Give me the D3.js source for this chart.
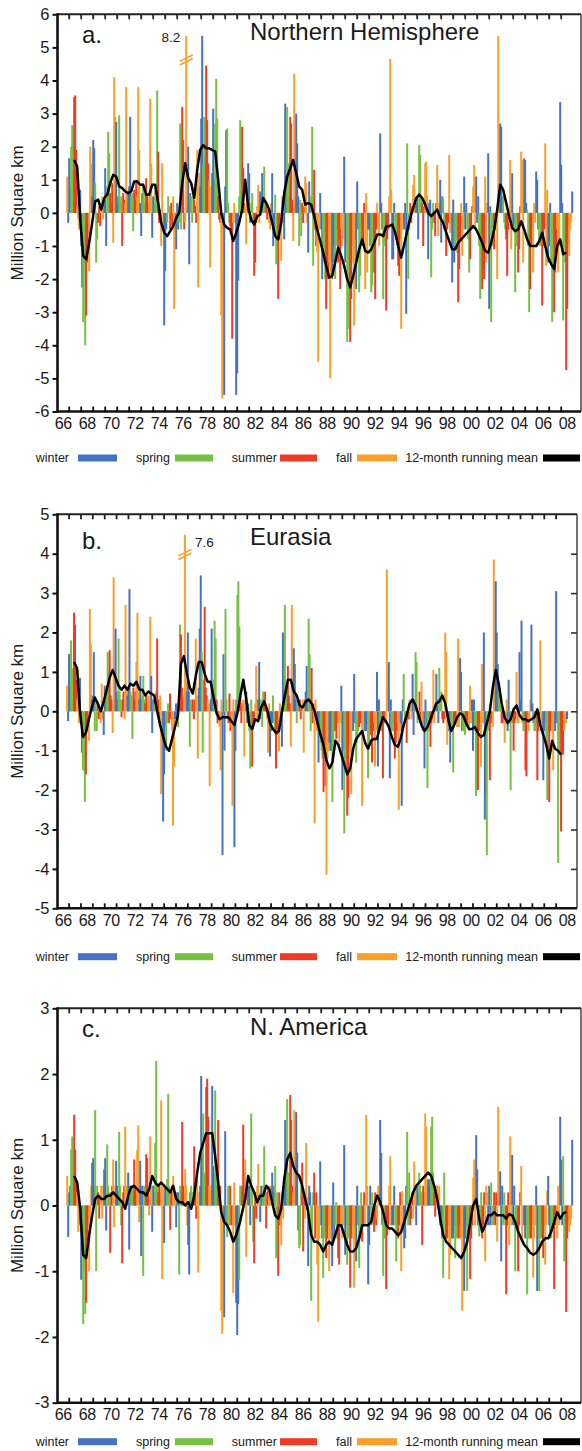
<!DOCTYPE html>
<html><head><meta charset="utf-8">
<script src="https://cdn.jsdelivr.net/npm/d3@7"></script>
<style>
body{margin:0;background:#fff}
svg{display:block}
text{font-family:"Liberation Sans",Arial,Helvetica,sans-serif;fill:#1a1a1a}
</style>
</head><body>
<svg id="chart" width="582" height="1451"></svg>
<script>
// ---------------- DATA ----------------
const seasons = ["winter", "spring", "summer", "fall"];
const seasonColors = ["#4672c4", "#76c043", "#ee3b24", "#f9a02b"];
const meanLabel = "12-month running mean";
const startYear = 1966, startMonth = 11;          // first monthly value: Nov 1966
const meanStartYear = 1967, meanStartMonth = 6;   // first running-mean value: Jun 1967
const meanStepMonths = 3;
const yearTicks = d3.range(1967, 2009);
const labelYears = d3.range(1966, 2009, 2);

// Monthly snow-cover anomalies (million km²), Nov 1966 – Dec 2008
const nhAnom = [
 1.1,-0.3,
 1.65,0.8,2.0,2.65,1.3,3.5,3.55,1.9,0.2,-0.2,-0.5,0.7,
 -1.0,-2.25,-3.3,-1.5,-4.0,-3.1,-1.5,-1.0,-1.75,2.0,1.5,0.5,
 2.2,1.95,0.9,-1.5,-0.8,-0.3,0.2,-0.4,0.3,0.5,-0.2,0.4,
 1.35,-1.0,0.8,2.45,1.8,0.6,0.3,0.9,-0.9,4.1,2.9,2.75,
 0.3,0.5,2.95,0.3,0.5,-1.0,0.6,0.4,0.3,3.8,0.3,0.6,
 0.8,2.9,0.5,0.6,-0.55,0.7,0.4,1.0,0.5,3.8,1.9,0.3,
 -0.7,0.6,0.9,0.3,0.8,1.05,0.6,0.3,0.5,3.45,1.5,-0.75,
 0.5,0.3,0.8,0.5,3.7,1.85,-0.3,0.1,-1.0,1.5,-0.5,-3.4,
 -1.75,-0.5,-0.3,0.5,0.2,-0.5,0.3,-0.4,0.5,-2.9,-0.5,-1.1,
 0.3,-0.5,-0.3,2.7,-0.5,3.2,2.2,-0.5,-0.3,8.2,0.3,2.0,
 -1.55,0.6,0.5,-0.3,0.5,0.4,0.2,-0.3,1.9,-2.25,1.2,0.8,
 2.85,5.4,1.5,2.9,1.8,4.45,2.8,1.5,1.0,-1.65,0.8,1.2,
 3.15,1.0,2.7,4.05,2.85,0.5,-0.2,-0.3,-3.1,-5.6,-0.5,-5.5,
 0.8,2.5,2.55,0.3,-0.3,-0.4,-0.5,-3.8,-0.3,0.3,-0.3,-5.5,
 -4.85,-2.05,0.5,2.8,0.5,2.6,1.35,0.3,0.2,-0.95,0.4,1.5,
 1.2,-0.3,0.3,0.6,-0.2,-1.9,-1.5,-0.3,0.2,0.85,-0.3,0.65,
 0.5,1.2,0.3,1.4,0.3,0.2,-0.2,0.1,-0.3,-0.5,0.3,1.2,
 -1.0,-0.5,0.55,-1.55,-0.5,-2.6,-0.8,-0.3,-1.45,0.5,-0.3,-0.8,
 3.3,1.0,3.2,1.5,0.5,2.9,2.7,0.4,-0.85,4.2,0.5,3.0,
 2.1,0.5,-1.0,0.4,-0.7,0.3,-0.3,0.2,1.1,0.9,-0.3,-1.2,
 0.95,0.3,0.5,2.6,-1.6,1.3,-0.5,-1.0,-1.2,-4.5,-0.5,0.6,
 -0.5,-2.0,-1.0,-1.5,-2.0,-2.9,-1.5,-2.0,-1.5,-5.0,-1.5,-2.0,
 -1.0,-1.5,-2.0,-1.0,-0.5,-1.5,-0.8,-2.3,-0.5,-1.0,-0.8,1.7,
 -1.5,-1.0,-3.9,-3.5,-2.0,-3.9,-2.6,-1.0,-1.5,-3.4,-0.8,-2.3,
 0.95,-0.5,-2.4,-1.9,-0.5,-0.8,-1.0,0.3,-2.3,0.6,-1.8,-0.5,
 -0.5,-1.0,-2.4,-2.2,-1.0,-1.8,-2.6,-0.5,0.3,-0.5,-1.0,2.4,
 0.3,-0.5,-2.6,-1.0,-0.5,-2.95,-0.8,-0.5,0.5,4.65,0.7,-1.4,
 -1.4,0.3,-0.5,-0.8,-1.0,-1.6,-1.9,-0.8,-3.5,-0.5,-0.3,-0.5,
 0.3,-3.05,2.1,-2.0,-0.5,0.3,-0.3,0.2,0.85,1.15,0.2,0.3,
 0.5,-0.8,2.05,1.75,0.5,0.3,-1.0,0.2,1.5,1.55,0.5,-1.4,
 0.3,0.4,-1.95,-0.5,0.3,-0.3,-0.7,0.3,1.45,-0.7,0.3,1.0,
 -0.9,0.5,0.45,-0.5,-0.3,-1.3,-0.5,-0.3,1.75,-0.6,-0.3,-2.1,
 0.4,-1.5,-1.0,-0.8,-1.2,-2.7,-1.7,-0.8,0.3,-1.3,-0.5,1.1,
 -0.5,0.3,-0.5,-0.8,-1.8,-1.4,-0.5,0.2,0.8,1.45,-0.5,1.1,
 -0.3,0.5,-1.0,-2.6,-1.0,-2.3,-1.7,-2.0,1.1,-1.5,0.3,1.8,
 -2.9,0.2,-3.3,-1.0,-0.5,-1.1,-0.5,-0.3,-2.0,5.4,0.5,2.7,
 2.6,0.5,0.5,-0.3,-0.5,-0.8,-1.9,-0.5,-0.3,1.6,-1.1,1.2,
 -0.5,-0.3,-2.4,-1.0,-0.5,-1.8,-1.1,0.2,1.85,1.6,-1.5,1.65,
 1.6,0.3,0.1,-1.0,-3.0,-2.3,-1.0,-0.5,-1.8,0.3,-0.3,1.25,
 1.0,-0.5,-0.8,-1.0,-0.5,-2.8,-1.0,-0.5,2.1,-1.6,0.7,-1.5,
 -1.0,0.3,-1.5,-3.3,-1.0,-3.0,-1.8,-1.0,-0.5,-1.8,-1.0,3.35,
 1.45,0.3,-3.25,-1.0,-1.5,-4.75,-2.9,-1.0,-1.3,-0.5,-0.3,0.65
];
const eaAnom = [
 0.65,-0.25,
 1.45,0.6,1.8,1.1,0.7,2.5,2.2,0.8,0.3,1.05,-0.3,0.85,
 -0.3,-1.05,-1.5,-0.7,-2.3,-1.6,-0.5,-0.4,-0.75,2.6,1.7,0.3,
 0.4,1.5,-0.5,0.3,-0.5,0.2,-0.2,0.1,-0.3,0.7,-0.2,-0.6,
 0.65,0.3,0.6,1.5,1.0,1.55,0.4,0.3,-0.55,3.4,1.0,2.1,
 0.5,0.3,1.85,0.5,0.3,-0.15,0.3,0.5,-0.2,2.7,0.6,0.4,
 0.6,3.1,0.5,0.4,-0.7,0.6,0.3,0.5,1.25,2.5,0.5,0.3,
 0.9,0.3,0.4,0.9,0.3,0.2,0.4,0.2,0.4,0.3,2.4,0.9,
 -0.55,0.3,0.2,0.4,0.5,1.85,0.3,-0.3,0.4,-2.1,-0.5,-2.8,
 -1.6,-0.4,-1.0,-0.3,0.2,-0.3,0.45,-0.2,-0.5,-2.9,-1.4,-0.2,
 0.2,-0.3,-0.4,0.5,2.2,1.95,0.6,0.3,0.4,7.6,0.8,0.5,
 2.0,0.5,-0.9,0.3,0.2,0.3,-0.2,0.3,1.85,0.4,-1.2,0.6,
 2.1,3.45,1.5,-1.05,0.8,2.65,0.6,0.4,0.3,0.2,-1.9,0.3,
 2.1,0.5,0.8,2.3,1.85,0.3,-0.3,-0.2,-0.4,-1.5,0.3,-3.65,
 1.45,-1.0,2.6,0.3,-0.2,-0.3,0.45,-0.5,-0.4,-2.4,0.3,-3.45,
 -1.0,0.3,2.95,3.3,2.15,0.4,-0.3,0.2,0.3,-1.15,0.3,0.5,
 -0.3,0.2,-0.5,-1.45,0.3,-1.4,-0.3,-0.2,0.2,1.15,-0.2,0.3,
 1.25,-0.2,0.3,-0.4,0.5,0.3,0.5,0.1,-0.2,-1.05,0.2,-1.15,
 -0.5,-0.3,0.4,-0.3,-0.5,-1.45,-0.6,-0.3,-1.0,0.2,-0.3,-0.9,
 2.0,0.5,2.7,0.6,0.3,1.15,0.4,0.2,-0.9,2.7,0.3,1.6,
 1.2,0.3,-0.3,0.3,0.2,0.3,-0.2,0.1,0.3,-1.05,0.3,0.5,
 1.15,0.3,2.35,1.45,-0.5,1.1,-0.3,0.2,-2.85,0.3,-0.5,-0.3,
 -1.3,-0.5,-0.8,-1.0,-1.2,-2.05,-1.0,-1.9,-4.15,-1.2,-1.0,-0.8,
 -1.0,-1.0,-2.3,-0.8,-0.5,-0.5,-0.7,-0.3,-0.3,-0.8,-0.3,0.65,
 -2.0,-1.0,-3.1,-1.5,-1.2,-2.65,-2.2,-0.8,-1.0,-2.1,-0.5,-0.5,
 0.95,-0.3,-1.3,-0.8,-0.5,-0.4,-0.3,-0.3,-2.4,-0.6,-0.3,-0.5,
 -0.5,-0.3,-1.7,-0.8,-0.5,-0.6,-1.3,-0.5,-0.3,-1.4,-0.5,1.0,
 -1.4,0.3,-0.5,-0.3,-0.5,-1.7,-0.3,-0.2,-0.3,3.6,0.5,1.25,
 -1.7,0.3,-0.5,-0.5,-0.3,-1.2,-0.8,-0.5,-0.3,-2.5,-0.5,-0.3,
 -2.4,0.3,0.95,-0.3,-0.3,-0.8,-0.2,-0.2,0.3,0.3,-0.2,0.95,
 -0.6,0.3,1.5,1.25,-0.3,-0.2,0.5,-0.3,0.75,-0.5,-0.3,-1.45,
 0.3,-0.5,-1.95,-0.5,-0.3,-0.9,-0.3,-0.2,1.05,-0.3,0.2,0.95,
 0.3,-0.3,1.1,0.3,0.5,-0.2,-0.3,-0.2,2.0,1.5,-0.85,-0.3,
 -0.5,-1.3,-0.3,-0.5,-1.55,-0.3,-0.3,-0.2,-0.4,1.85,-0.4,1.35,
 1.0,-0.5,-0.5,-0.3,-0.6,-0.3,-0.2,-0.3,-0.5,0.65,-0.3,0.3,
 -1.0,0.3,-0.5,-2.15,-0.5,-2.0,-0.5,-0.3,-1.4,1.2,-0.3,2.0,
 -2.75,-2.1,-3.65,-0.5,-0.3,-1.75,-0.3,-0.2,-0.4,3.85,0.5,3.3,
 2.0,1.2,0.7,0.5,0.3,-0.3,-0.3,-0.2,-0.8,-0.3,0.3,-0.5,
 0.8,-0.3,-2.0,-0.3,-0.3,-1.0,-0.3,-0.2,1.0,-0.3,-0.3,1.5,
 0.3,2.3,-0.3,-0.5,-0.3,-1.5,-1.65,-0.3,-0.5,-0.3,0.3,2.2,
 0.2,-0.3,-0.5,-0.5,-0.3,-1.75,-0.5,-0.3,1.8,-0.5,-0.3,-1.75,
 -0.5,-0.3,-0.8,-2.25,-0.5,-2.3,-0.5,-0.3,-0.5,-1.5,-0.3,-0.5,
 3.05,-0.3,-3.85,-1.0,-0.5,-3.05,-1.0,-1.1,-0.5,-0.3,-0.3,-0.2
];
const naAnom = [
 0.45,-0.48,
 0.2,0.3,0.85,1.05,0.4,1.38,0.85,0.3,0.2,-0.4,0.1,-0.3,
 -1.13,-0.5,-1.8,-1.0,-1.65,-1.48,-0.6,-0.3,-1.0,-0.3,0.3,0.65,
 0.72,0.3,1.45,-1.0,0.3,0.2,-0.2,0.1,0.3,-0.2,0.3,0.55,
 0.72,-0.38,0.93,0.3,0.2,-0.72,0.2,0.3,0.7,-0.33,0.3,0.68,
 0.3,0.2,1.12,0.3,-0.3,-0.88,0.2,0.3,1.2,0.3,0.2,0.5,
 -0.67,0.3,0.2,0.3,0.2,0.7,0.3,0.2,0.85,1.22,-0.25,0.68,
 -0.77,0.3,-1.07,0.3,0.2,0.78,0.72,0.2,-0.15,1.05,0.3,-0.4,
 0.3,0.2,0.95,2.2,0.3,0.2,0.3,0.2,1.6,-1.12,0.3,-0.57,
 0.3,0.2,0.4,1.7,0.3,-0.37,0.2,0.3,0.45,0.2,0.2,-0.33,
 0.2,0.2,-1.05,0.3,0.2,1.27,0.3,0.2,0.55,0.3,-0.3,-0.6,
 -1.05,0.2,0.3,0.2,0.2,0.9,0.2,-0.2,0.4,-1.02,0.2,0.3,
 1.97,0.8,1.4,0.5,0.3,1.8,1.93,1.35,0.3,0.2,0.3,1.82,
 0.6,0.5,1.75,0.5,0.3,1.3,0.2,0.3,-1.6,-1.95,-0.4,-1.7,
 1.13,-0.3,-0.48,0.3,-0.3,0.3,-0.3,-0.3,-1.33,0.35,-0.3,-1.48,
 -1.97,-1.5,-1.13,0.3,0.2,0.3,1.23,0.5,0.7,-0.78,0.2,0.3,
 0.3,-0.3,1.4,0.3,-0.55,-0.88,0.2,-0.2,0.3,0.63,0.2,-0.25,
 0.3,0.2,0.3,0.9,0.3,-0.35,0.2,0.3,0.3,0.2,0.3,0.5,
 0.2,0.3,0.6,-0.8,0.2,-1.07,0.2,-0.3,-0.6,0.2,-0.2,0.2,
 1.3,0.5,1.62,0.5,0.3,1.68,1.3,0.3,0.2,1.45,0.3,1.42,
 0.8,-0.38,-0.65,-0.6,0.3,0.65,-0.7,0.2,-0.2,0.95,0.13,-0.92,
 0.3,0.2,-1.45,-0.5,0.2,0.5,-0.5,0.2,-0.9,-1.77,-0.5,0.67,
 -0.3,-0.5,-1.1,-0.5,-0.3,-0.8,-0.5,-0.3,-1.0,-0.5,-0.3,-0.92,
 0.35,-0.5,-0.3,0.05,-0.5,-0.8,-0.9,-0.3,-0.3,-0.5,-0.3,0.92,
 -0.75,-0.3,-0.9,-0.5,-0.3,-1.25,-0.5,-0.3,-0.5,-1.25,-0.3,-0.85,
 0.3,-0.3,-0.95,-0.5,0.2,-0.55,-0.3,0.2,-0.3,1.38,0.3,-1.2,
 -0.6,0.3,-0.3,0.2,-0.3,-0.4,0.2,-0.3,-0.2,0.3,0.2,1.3,
 0.8,-0.3,-1.07,-0.5,-0.3,-1.27,-0.45,-0.3,0.3,0.75,-0.3,-0.3,
 -0.3,0.3,-0.3,-0.85,-0.3,-0.5,-0.3,0.2,-1.0,0.22,-0.3,-0.65,
 -0.5,0.3,1.12,-0.3,0.5,-0.3,-0.2,0.2,-0.2,0.67,0.3,-0.3,
 0.3,0.2,0.5,0.3,0.2,-0.6,0.3,0.2,1.4,1.2,0.3,0.4,
 0.3,0.4,1.2,1.35,0.5,0.2,-0.17,0.3,0.3,0.2,0.3,-0.3,
 -0.3,-0.5,-1.1,0.5,-0.5,-0.5,-0.5,-0.3,-1.12,-0.75,-0.5,-0.5,
 -0.5,-0.3,-0.8,-0.5,-0.3,-0.5,-0.3,-0.5,-0.5,-1.6,-0.5,-1.3,
 -0.5,-0.3,-1.3,-0.5,-0.3,-1.12,-0.5,-0.3,0.42,0.7,-0.3,1.07,
 0.55,-0.3,-0.47,-0.3,0.2,-0.5,-0.3,0.2,-0.85,0.3,0.2,-0.3,
 0.3,-0.3,0.35,-0.3,-0.3,0.2,-0.3,0.2,-0.55,1.5,0.2,0.52,
 -0.85,0.3,-0.3,0.2,-0.3,-1.35,-0.3,0.2,-0.6,1.05,-0.3,0.77,
 -0.3,0.3,-1.0,-0.3,-0.3,-1.0,-0.3,0.2,0.6,-0.5,-0.3,-0.3,
 -0.5,-0.3,-1.35,-0.5,-0.3,-0.5,-0.5,-0.3,-1.1,-0.5,-0.3,0.3,
 -1.3,-0.5,-1.3,-0.5,-0.3,-0.5,-0.8,-0.3,-0.9,-0.3,0.23,0.45,
 -0.3,-0.5,-0.5,-0.3,-0.3,-1.27,-0.3,-0.2,-0.5,0.3,-0.3,1.35,
 0.7,-0.3,0.75,-0.85,-0.3,-1.62,-0.5,-0.3,-0.4,-0.3,-0.2,1.0
];

// 12-month running means, every 3 months from Jun 1967
const nhMean = [
 1.6,1.4,-0.2,-1.3,-1.4,-0.9,-0.3,0.35,0.4,0.1,
 0.45,0.55,0.9,1.15,1.1,0.8,0.75,0.65,0.6,0.65,
 0.95,0.95,0.85,0.85,0.55,0.55,0.85,0.85,0.3,-0.3,
 -0.6,-0.7,-0.55,-0.4,-0.15,0.0,0.9,1.5,1.05,0.9,
 0.45,1.3,1.9,2.05,1.95,1.95,1.9,1.85,1.0,0.0,
 -0.35,-0.45,-0.5,-0.85,-0.6,-0.3,0.1,1.0,0.15,-0.2,
 -0.35,-0.1,-0.05,0.45,0.3,0.1,-0.3,-0.7,-0.8,-0.3,
 0.6,1.1,1.35,1.6,1.2,0.8,0.7,0.25,0.3,0.25,
 -0.1,-0.5,-0.85,-1.2,-1.6,-1.95,-1.9,-1.5,-1.05,-1.3,
 -1.6,-2.0,-2.25,-1.9,-1.5,-1.1,-0.8,-1.15,-1.2,-1.1,
 -0.9,-0.65,-0.65,-0.7,-0.4,-0.4,-0.35,-0.6,-1.0,-1.35,
 -0.95,-0.55,-0.15,0.15,0.45,0.55,0.45,0.25,0.0,-0.1,
 0.0,0.1,-0.15,-0.3,-0.6,-0.85,-1.1,-1.1,-0.9,-0.8,
 -0.7,-0.6,-0.5,-0.4,-0.5,-0.7,-0.9,-1.15,-1.2,-0.9,
 -0.5,0.1,0.85,0.7,0.3,-0.1,-0.45,-0.55,-0.5,-0.25,
 -0.5,-0.8,-1.0,-1.0,-1.0,-0.85,-0.6,-1.0,-1.35,-1.55,
 -1.7,-1.0,-0.8,-1.25,-1.2
];
const eaMean = [
 1.25,1.1,0.0,-0.65,-0.55,-0.2,0.1,0.35,0.2,0.0,
 0.25,0.55,0.85,1.05,0.85,0.65,0.55,0.65,0.55,0.7,
 0.65,0.75,0.55,0.55,0.4,0.5,0.45,0.4,0.0,-0.35,
 -0.65,-0.9,-1.0,-0.7,-0.4,-0.1,1.2,1.4,0.95,0.6,
 0.45,0.9,1.25,1.25,0.95,0.75,0.75,0.35,-0.05,-0.2,
 -0.15,-0.15,-0.15,-0.25,-0.35,-0.05,0.4,0.8,0.3,-0.35,
 -0.45,-0.2,-0.25,0.1,0.25,0.05,-0.3,-0.45,-0.55,-0.5,
 0.0,0.4,0.8,0.8,0.5,0.4,0.15,0.1,0.25,0.3,
 0.2,0.0,-0.3,-0.6,-0.85,-1.25,-1.45,-1.3,-0.75,-0.85,
 -1.1,-1.35,-1.6,-1.45,-0.95,-0.7,-0.6,-0.5,-0.8,-0.95,
 -0.75,-0.7,-0.7,-0.4,-0.15,-0.25,-0.4,-0.65,-0.85,-0.9,
 -0.7,-0.35,-0.1,0.2,0.3,0.15,-0.1,-0.35,-0.5,-0.4,
 -0.2,0.0,0.2,0.25,0.4,0.2,-0.2,-0.5,-0.35,-0.15,
 -0.05,-0.1,-0.3,-0.45,-0.45,-0.4,-0.55,-0.65,-0.6,-0.3,
 0.0,0.6,1.05,0.7,0.2,-0.15,-0.3,-0.2,0.05,0.15,
 -0.1,-0.2,-0.2,-0.25,-0.2,-0.15,0.05,-0.35,-0.6,-0.85,
 -1.2,-0.75,-0.95,-1.0,-1.1
];
const naMean = [
 0.45,0.35,-0.05,-0.75,-0.8,-0.45,-0.15,0.1,0.15,0.1,
 0.1,0.15,0.15,0.2,0.15,0.1,0.05,-0.05,0.15,0.28,
 0.3,0.25,0.2,0.2,0.15,0.25,0.45,0.35,0.3,0.35,
 0.3,0.25,0.2,0.3,0.1,0.05,0.05,0.0,0.05,-0.05,
 0.15,0.5,0.8,0.95,1.1,1.1,1.1,0.75,0.35,-0.1,
 -0.25,-0.3,-0.4,-0.55,-0.45,-0.3,-0.1,0.1,0.45,0.3,
 0.2,0.05,0.15,0.15,0.3,0.25,0.05,-0.15,-0.2,-0.05,
 0.4,0.7,0.8,0.6,0.5,0.45,0.3,0.1,-0.1,-0.45,
 -0.55,-0.55,-0.6,-0.7,-0.6,-0.55,-0.6,-0.45,-0.3,-0.3,
 -0.45,-0.6,-0.7,-0.7,-0.65,-0.5,-0.3,-0.3,-0.3,-0.25,
 0.0,0.15,0.05,-0.1,-0.3,-0.35,-0.35,-0.4,-0.45,-0.4,
 -0.25,-0.1,0.05,0.2,0.3,0.35,0.4,0.45,0.5,0.45,
 0.3,0.1,-0.2,-0.45,-0.55,-0.6,-0.65,-0.7,-0.75,-0.8,
 -0.7,-0.55,-0.25,0.0,0.1,-0.2,-0.4,-0.3,-0.15,-0.15,
 -0.1,-0.15,-0.15,-0.15,-0.2,-0.13,-0.15,-0.25,-0.4,-0.5,
 -0.6,-0.65,-0.72,-0.75,-0.72,-0.65,-0.55,-0.5,-0.5,-0.4,
 -0.25,-0.1,-0.2,-0.12,-0.1
];

// ---------------- LAYOUT ----------------
const FONT = '"Liberation Sans",Arial,Helvetica,sans-serif';
const left = 57.5;
const panels = [
  {letter:"a.", title:"Northern Hemisphere", values:nhAnom, mean:nhMean,
   yMin:-6, yMax:6, top:14.3, bottom:411.5, right:581, pxPerYear:12.0,
   letterDy:29, titleDy:26, legendY:458, cap:5.35, breakV:4.62, capSide:"left", rightTicks:false},
  {letter:"b.", title:"Eurasia", values:eaAnom, mean:eaMean,
   yMin:-5, yMax:5, top:514.3, bottom:908.3, right:577, pxPerYear:11.88,
   letterDy:34.5, titleDy:31, legendY:956.7, cap:4.48, breakV:3.98, capSide:"right", rightTicks:true},
  {letter:"c.", title:"N. America", values:naAnom, mean:naMean,
   yMin:-3, yMax:3, top:1008.3, bottom:1402.7, right:581, pxPerYear:12.0,
   letterDy:28.5, titleDy:27, legendY:1441.7, cap:null, rightTicks:false}
];

const svg = d3.select("#chart");
const x0 = 56.7, domEnd = 2009.69;
const xLabel = d3.scaleLinear().domain([1966, domEnd]).range([x0, x0 + (domEnd-1966)*12.0]);

function monthTime(i){ const m = startMonth - 1 + i; return startYear + (m + 0.5) / 12; }
function seasonOf(i){ const mo = (startMonth - 1 + i) % 12 + 1;
  if (mo === 12 || mo <= 2) return 0; if (mo <= 5) return 1; if (mo <= 8) return 2; return 3; }
function meanTime(k){ return meanStartYear + (meanStartMonth - 1 + meanStepMonths*k + 0.5) / 12; }

panels.forEach(p => {
  const x = d3.scaleLinear().domain([1966, domEnd]).range([x0, x0 + (domEnd-1966)*p.pxPerYear]);
  const y = d3.scaleLinear().domain([p.yMin, p.yMax]).range([p.bottom, p.top]);
  const g = svg.append("g");
  const barW = 2.0;

  // bars
  g.append("g").selectAll("rect").data(p.values.map((v,i)=>({v,i}))).join("rect")
    .attr("x", d => x(monthTime(d.i)) - barW/2)
    .attr("width", barW)
    .attr("y", d => { const v = p.cap != null ? Math.min(d.v, p.cap) : d.v; return Math.min(y(v), y(0)); })
    .attr("height", d => { const v = p.cap != null ? Math.min(d.v, p.cap) : d.v; return Math.abs(y(v) - y(0)); })
    .attr("fill", d => seasonColors[seasonOf(d.i)]);

  // axis break for clipped bar
  if (p.cap != null) {
    const maxV = d3.max(p.values);
    const iMax = p.values.indexOf(maxV);
    const bx = x(monthTime(iMax)), by = y(p.breakV);
    const bc = seasonColors[seasonOf(iMax)];
    [ -1.8, 1.8 ].forEach(off => {
      g.append("line").attr("x1", bx-6.5).attr("y1", by+off+3.2).attr("x2", bx+6.5).attr("y2", by+off-3.2)
        .attr("stroke", bc).attr("stroke-width", 1.6);
    });
    const lbl = g.append("text").text(d3.format(".1f")(maxV)).attr("font-size", 13.5)
      .attr("y", y(p.cap) + (p.capSide === "left" ? 6 : 12));
    if (p.capSide === "left") lbl.attr("x", bx - 6).attr("text-anchor", "end");
    else lbl.attr("x", bx + 10).attr("text-anchor", "start");
  }

  // running mean
  const line = d3.line().x((d,k) => x(meanTime(k))).y(d => y(d)).curve(d3.curveLinear);
  g.append("path").datum(p.mean).attr("d", line).attr("fill", "none")
    .attr("stroke", "#000").attr("stroke-width", 2.5).attr("stroke-linejoin", "round");

  // frame
  g.append("line").attr("x1", left).attr("x2", p.right).attr("y1", p.top).attr("y2", p.top)
    .attr("stroke", "#222").attr("stroke-width", 2);
  g.append("line").attr("x1", p.right).attr("x2", p.right).attr("y1", p.top).attr("y2", p.bottom)
    .attr("stroke", "#444").attr("stroke-width", 1.5);
  g.append("line").attr("x1", left).attr("x2", p.right).attr("y1", p.bottom).attr("y2", p.bottom)
    .attr("stroke", "#111").attr("stroke-width", 2.6);
  g.append("line").attr("x1", left).attr("x2", left).attr("y1", p.top-1).attr("y2", p.bottom+1.3)
    .attr("stroke", "#111").attr("stroke-width", 2.6);

  // year ticks (top: pointing down, bottom: pointing up)
  g.append("g").attr("transform", `translate(0,${p.top})`)
    .call(d3.axisBottom(x).tickValues(yearTicks).tickSize(5).tickFormat(""))
    .call(s => { s.select(".domain").remove(); s.selectAll("line").attr("stroke", "#222").attr("stroke-width", 1.8); });
  g.append("g").attr("transform", `translate(0,${p.bottom})`)
    .call(d3.axisTop(x).tickValues(yearTicks).tickSize(5).tickFormat(""))
    .call(s => { s.select(".domain").remove(); s.selectAll("line").attr("stroke", "#111").attr("stroke-width", 1.8); });

  // year labels
  g.append("g").attr("transform", `translate(0,${p.bottom})`)
    .call(d3.axisBottom(xLabel).tickValues(labelYears.map(Y => Y + 0.5)).tickSize(0).tickPadding(6)
      .tickFormat(t => String(Math.floor(t) % 100).padStart(2, "0")))
    .call(s => { s.select(".domain").remove();
      s.selectAll("text").attr("font-size", 16).attr("font-family", FONT).attr("fill", "#1a1a1a").attr("letter-spacing", -0.4); });

  // y axis
  const yTicks = d3.range(p.yMin, p.yMax + 1);
  g.append("g").attr("transform", `translate(${left},0)`)
    .call(d3.axisLeft(y).tickValues(yTicks).tickSize(5).tickPadding(3).tickFormat(d => String(d)))
    .call(s => { s.select(".domain").remove(); s.selectAll("line").attr("stroke", "#111").attr("stroke-width", 2);
      s.selectAll("text").attr("font-size", 16.5).attr("font-family", FONT).attr("fill", "#1a1a1a"); });
  if (p.rightTicks) {
    g.append("g").attr("transform", `translate(${p.right},0)`)
      .call(d3.axisLeft(y).tickValues(yTicks.slice(1, -1)).tickSize(6).tickFormat(""))
      .call(s => { s.select(".domain").remove(); s.selectAll("line").attr("stroke", "#333").attr("stroke-width", 1.6); });
  }

  // y title
  g.append("text").attr("transform", `translate(22.5,${(p.top + p.bottom)/2}) rotate(-90)`)
    .attr("text-anchor", "middle").attr("font-size", 17).text("Million Square km");

  // panel letter and title
  g.append("text").attr("x", 82).attr("y", p.top + p.letterDy).attr("font-size", 24).text(p.letter);
  g.append("text").attr("x", 250).attr("y", p.top + p.titleDy).attr("font-size", 24).text(p.title);

  // legend
  const items = [
    {label: seasons[0], color: seasonColors[0], tx: 69, sx: 78, sw: 39},
    {label: seasons[1], color: seasonColors[1], tx: 170, sx: 175, sw: 38},
    {label: seasons[2], color: seasonColors[2], tx: 277, sx: 280, sw: 37},
    {label: seasons[3], color: seasonColors[3], tx: 352, sx: 357, sw: 40},
    {label: meanLabel, color: "#000", tx: 538, sx: 543, sw: 37}
  ];
  const lg = g.append("g");
  items.forEach(it => {
    lg.append("text").attr("x", it.tx).attr("y", p.legendY + 4.3).attr("text-anchor", "end")
      .attr("font-size", 12.5).attr("fill", "#222").text(it.label);
    lg.append("rect").attr("x", it.sx).attr("y", p.legendY - 3.5).attr("width", it.sw).attr("height", 7)
      .attr("fill", it.color);
  });
});
</script>
</body></html>
